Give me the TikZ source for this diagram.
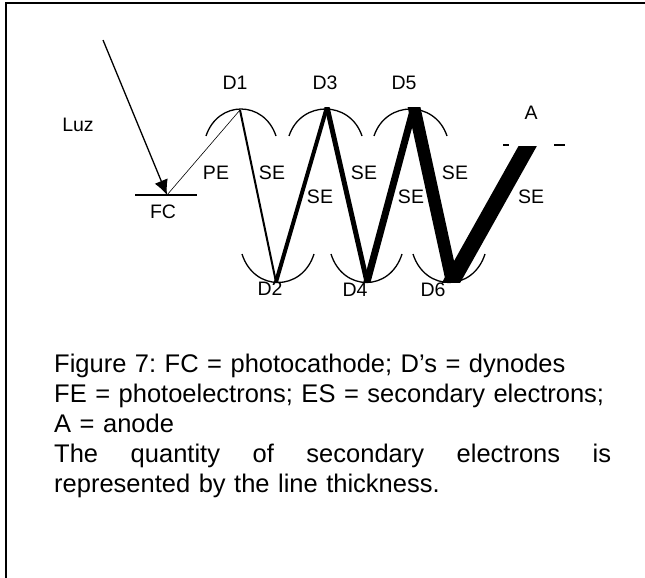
\documentclass[tikz,border=0pt]{standalone}
\usepackage{fontspec}
\setmainfont{Liberation Sans}
\usetikzlibrary{arrows.meta,positioning,calc}
\begin{document}
\begin{tikzpicture}[x=1pt,y=-1pt,>={Latex[length=15pt,width=14pt]},every node/.style={font=\fontsize{19.5}{22}\selectfont,inner sep=0pt},
  dyarc/.style={line width=1.3pt},
  beam/.style={shorten <=-12pt,shorten >=-12pt}]
\useasboundingbox (0,0) rectangle (645,578);
\draw[line width=1.6pt] (6,578) -- (6,3) -- (645,3);
% points on the dynodes
\coordinate (p1) at (240,110);
\coordinate (p2) at (276,282);
\coordinate (p3) at (327,107);
\coordinate (p4) at (367,282);
\coordinate (p5) at (414,107);
\coordinate (p6) at (452,281);
\coordinate (pa) at (527.7,146);
\coordinate (start) at (103,40);
\coordinate (pc) at (167,195);
% dynode arcs
\draw[dyarc] (206,136) .. controls (218,100) and (264,100) .. (276,136);
\draw[dyarc] (289,136) .. controls (301,100) and (350,100) .. (362,136);
\draw[dyarc] (374,136) .. controls (386,100) and (435,100) .. (447,136);
\draw[dyarc] (242,254) .. controls (254,292) and (302,292) .. (314,254);
\draw[dyarc] (331,254) .. controls (343,292) and (390,292) .. (402,254);
\draw[dyarc] (413,254) .. controls (425,292) and (473,292) .. (485,254);
% photocathode and anode
\draw[line width=1.3pt] (135,195) -- (197,195);
\draw[line width=1.3pt] (503,145) -- (509,145);
\draw[line width=1.3pt] (554,145) -- (565,145);
\draw[line width=1.3pt,->] (start) -- (pc);
\draw[line width=0.6pt] (pc) -- (p1);
% electron paths, cut flat at the dynodes
\begin{scope}
\clip (0,107) rectangle (645,282);
\draw[line width=2pt,shorten >=-12pt] (p1) -- (p2);
\draw[line width=4pt,beam] (p2) -- (p3);
\draw[line width=5pt,beam] (p3) -- (p4);
\draw[line width=7pt,beam] (p4) -- (p5);
\draw[line width=12.5pt,beam] (p5) -- (p6);
\begin{scope}
\clip (0,146) rectangle (645,282);
\draw[line width=16pt,beam] (p6) -- (pa);
\end{scope}
\end{scope}
% labels
\node (luz) at (78,125) {Luz};
\node (fc) at (163,212) {FC};
\node (pe) at (216,173) {PE};
\node (d1) at (235,83) {D1};
\node (d2) at (270,289) {D2};
\node (d3) at (325,83) {D3};
\node (d4) at (355,290) {D4};
\node (d5) at (404,83) {D5};
\node (d6) at (433,290) {D6};
\node (a) at (531,113) {A};
\node (se1) at (272,173) {SE};
\node (se2) at (320,197) {SE};
\node (se3) at (364,173) {SE};
\node (se4) at (411,197) {SE};
\node (se5) at (455,173) {SE};
\node (se6) at (531,197) {SE};
\node[font=\fontsize{25.5}{30.2}\selectfont\frenchspacing,align=left,text width=557pt,anchor=base west] (caption) at (54,372) {Figure 7: FC = photocathode; D’s = dynodes\\
FE = photoelectrons; ES = secondary electrons;\\
A = anode\\
The\hfill quantity\hfill of\hfill secondary\hfill electrons\hfill is\\
represented by the line thickness.};
\end{tikzpicture}
\end{document}
